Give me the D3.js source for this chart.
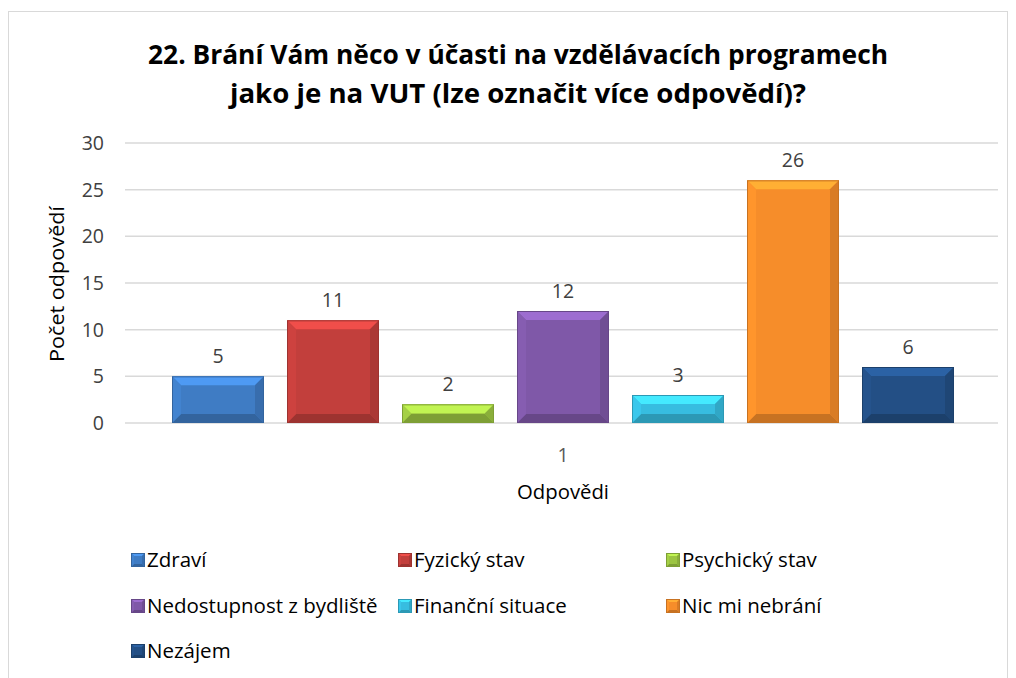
<!DOCTYPE html>
<html>
<head>
<meta charset="utf-8">
<script src="https://cdn.jsdelivr.net/npm/d3@7"></script>
<style>
  body { margin: 0; background: #fff; }
  svg { display: block; font-family: "Open Sans", "Noto Sans", sans-serif; }
</style>
</head>
<body>
<svg id="chart" width="1016" height="678"></svg>
<script>
// data
const series = ['Zdraví', 'Fyzický stav', 'Psychický stav', 'Nedostupnost z bydliště',
                'Finanční situace', 'Nic mi nebrání', 'Nezájem']
const values = [5, 11, 2, 12, 3, 26, 6]
const colors = ['#3f7cc4', '#c23f3c', '#9cc542', '#7f58a8', '#37bde0', '#f68d2a', '#234f85']
const yTicks = [0, 5, 10, 15, 20, 25, 30]
const category = '1'

const svg = d3.select('#chart')

// chart frame
svg.append('rect')
    .attr('x', 8.5).attr('y', 11.5)
    .attr('width', 999).attr('height', 700)
    .style('fill', '#fff')
    .style('stroke', '#d9d9d9')
    .style('stroke-width', 1)

// title
const title = svg.append('text')
    .attr('text-anchor', 'middle')
    .style('font-weight', 'bold')
    .style('font-size', '27px')
    .style('fill', '#000')
title.append('tspan').attr('x', 518).attr('y', 64)
    .attr('textLength', 740).attr('lengthAdjust', 'spacingAndGlyphs')
    .text('22. Brání Vám něco v účasti na vzdělávacích programech')
title.append('tspan').attr('x', 518).attr('y', 103)
    .attr('textLength', 576).attr('lengthAdjust', 'spacingAndGlyphs')
    .text('jako je na VUT (lze označit více odpovědí)?')

const y = d3.scaleLinear().domain([0, 30]).range([423, 143])
const x = d3.scaleBand().domain(series).range([160.5, 965.5])
    .paddingInner(0.2).paddingOuter(0.1)

// gridlines
svg.append('g').selectAll('line')
    .data(yTicks)
    .enter().append('line')
    .attr('x1', 125).attr('x2', 998)
    .attr('y1', d => y(d)).attr('y2', d => y(d))
    .style('stroke', '#d9d9d9')
    .style('stroke-width', 1.5)

// y axis labels
svg.append('g').selectAll('text')
    .data(yTicks)
    .enter().append('text')
    .attr('x', 104)
    .attr('y', d => y(d) + 7)
    .attr('text-anchor', 'end')
    .style('font-size', '19.5px')
    .style('fill', '#404040')
    .text(d => d)

svg.append('text')
    .attr('transform', 'translate(64,284) rotate(-90)')
    .attr('text-anchor', 'middle')
    .attr('textLength', 156).attr('lengthAdjust', 'spacingAndGlyphs')
    .style('font-size', '20px')
    .style('fill', '#000')
    .text('Počet odpovědí')

svg.append('text')
    .attr('x', 563).attr('y', 462)
    .attr('text-anchor', 'middle')
    .style('font-size', '19.5px')
    .style('fill', '#595959')
    .text(category)

svg.append('text')
    .attr('x', 563).attr('y', 499)
    .attr('text-anchor', 'middle')
    .attr('textLength', 92).attr('lengthAdjust', 'spacingAndGlyphs')
    .style('font-size', '20px')
    .style('fill', '#000')
    .text('Odpovědi')

// beveled box like the Excel "bevel" effect
function bevelBox(g, x0, y0, w, h, c, b) {
  const col = d3.color(c)
  const lighter = col.brighter(0.6), darker = col.darker(0.6)
  b = Math.min(b, h / 2, w / 2)
  g.append('rect')
      .attr('x', x0).attr('y', y0).attr('width', w).attr('height', h)
      .style('fill', c)
  const poly = (pts, fill) => g.append('polygon')
      .attr('points', pts.map(p => p.join(',')).join(' '))
      .style('fill', fill)
  const x1 = x0 + w, y1 = y0 + h
  poly([[x0, y0], [x1, y0], [x1 - b, y0 + b], [x0 + b, y0 + b]], lighter)
  poly([[x0, y1], [x1, y1], [x1 - b, y1 - b], [x0 + b, y1 - b]], darker)
  poly([[x0, y0], [x0 + b, y0 + b], [x0 + b, y1 - b], [x0, y1]], col.brighter(0.15))
  poly([[x1, y0], [x1 - b, y0 + b], [x1 - b, y1 - b], [x1, y1]], col.darker(0.35))
  g.append('rect')
      .attr('x', x0 + 0.5).attr('y', y0 + 0.5).attr('width', w - 1).attr('height', h - 1)
      .style('fill', 'none').style('stroke', darker).style('stroke-width', 1)
}

const bars = svg.append('g')
series.forEach((s, i) => {
  const g = bars.append('g')
  bevelBox(g, x(s), y(values[i]), x.bandwidth(), y(0) - y(values[i]), colors[i], 9)
})

// data labels
svg.append('g').selectAll('text')
    .data(values)
    .enter().append('text')
    .attr('x', (d, i) => x(series[i]) + x.bandwidth() / 2)
    .attr('y', d => y(d) - 13)
    .attr('text-anchor', 'middle')
    .style('font-size', '19.5px')
    .style('fill', '#404040')
    .text(d => d)

// legend
const legendCols = [131, 398, 666]
const legendRows = [560, 606, 651]
const legend = svg.append('g')
series.forEach((s, i) => {
  const lx = legendCols[i % 3], ly = legendRows[Math.floor(i / 3)]
  const g = legend.append('g')
  bevelBox(g, lx, ly - 7, 14, 14, colors[i], 3)
  g.append('text')
      .attr('x', lx + 16).attr('y', ly + 7)
      .style('font-size', '20.5px')
      .style('fill', '#000')
      .text(s)
})
</script>
</body>
</html>
